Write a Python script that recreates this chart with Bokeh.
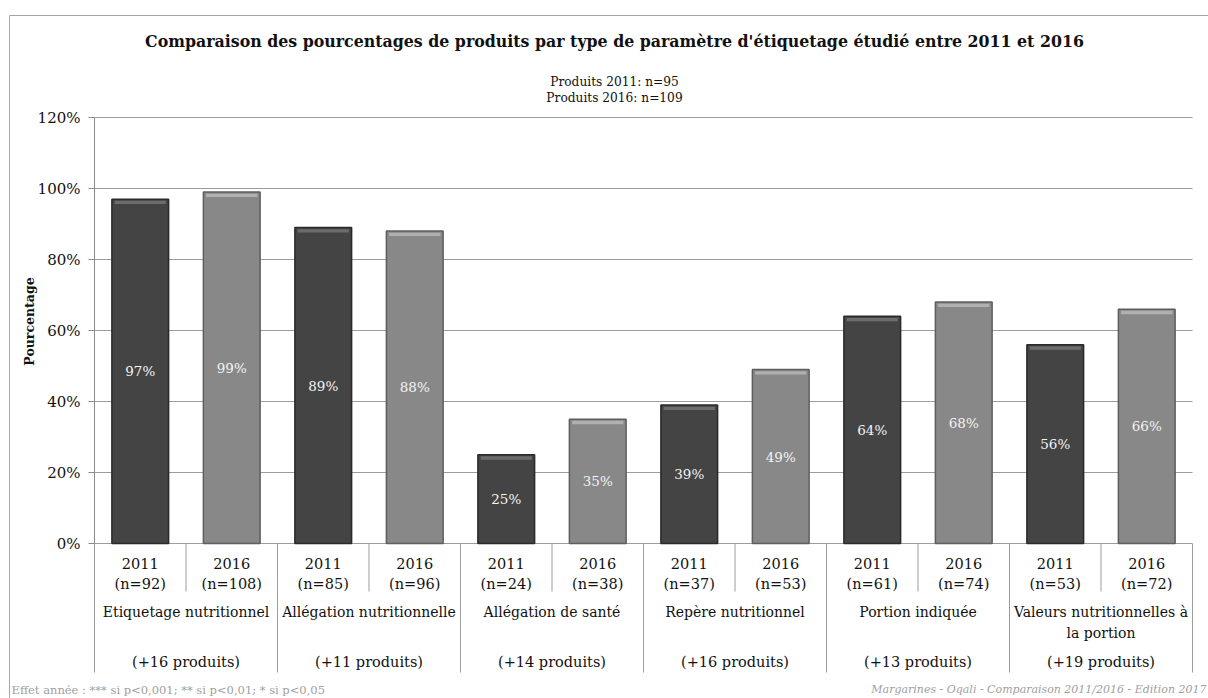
import math
from bokeh.plotting import figure
from bokeh.models import Range1d, FixedTicker, Label, ColumnDataSource, PrintfTickFormatter
from bokeh.embed import file_html
from bokeh.resources import INLINE
from bokeh.core.properties import value

# ---------------- data ----------------
categories = ["Etiquetage nutritionnel", "Allégation nutritionnelle", "Allégation de santé",
              "Repère nutritionnel", "Portion indiquée", "Valeurs nutritionnelles à\nla portion"]
years = ["2011", "2016"]
pct_2011 = [97, 89, 25, 39, 64, 56]
pct_2016 = [99, 88, 35, 49, 68, 66]
n_2011 = [92, 85, 24, 37, 61, 53]
n_2016 = [108, 96, 38, 53, 74, 72]
extra_products = [16, 11, 14, 16, 13, 19]
y_ticks = [0, 20, 40, 60, 80, 100, 120]
title_text = "Comparaison des pourcentages de produits par type de paramètre d'étiquetage étudié entre 2011 et 2016"
subtitle_lines = ["Produits 2011: n=95", "Produits 2016: n=109"]
y_label = "Pourcentage"
footer_left = "Effet année : *** si p<0,001; ** si p<0,01; * si p<0,05"
footer_right = "Margarines - Oqali - Comparaison 2011/2016 - Edition 2017"

FONT = "DejaVu Serif"

# ---------------- layout (page pixels -> data units) ----------------
W, H = 1208, 698
ORIGIN_X, ORIGIN_Y = 0, 0   # observed canvas position on the page
PX_X0, PX_X12 = 94, 1192    # page x of the plot area left/right
PX_Y0, PX_Y120 = 543, 117   # page y of 0% and 120%
UX = (PX_X12 - PX_X0) / 12.0
UY = (PX_Y0 - PX_Y120) / 120.0

def dx(px):
    return (px - PX_X0) / UX

def dy(py):
    return (PX_Y0 - py) / UY

x_start, x_end = dx(ORIGIN_X), dx(ORIGIN_X + W)
y_start, y_end = dy(ORIGIN_Y + H), dy(ORIGIN_Y)
TABLE_BOTTOM = dy(672)

# ---------------- derived table ----------------
ncat = len(categories)
xs, vals, ns, yrs, fills, lines, hls = [], [], [], [], [], [], []
for c in range(ncat):
    for j, (v, n) in enumerate([(pct_2011[c], n_2011[c]), (pct_2016[c], n_2016[c])]):
        xs.append(2 * c + j + 0.5)
        vals.append(v)
        ns.append(f"(n={n})")
        yrs.append(years[j])
        fills.append("#444444" if j == 0 else "#888888")
        lines.append("#2a2a2a" if j == 0 else "#5e5e5e")
        hls.append("#6c6c6c" if j == 0 else "#b0b0b0")

src = ColumnDataSource(dict(
    x=xs, top=vals, mid=[v / 2 for v in vals], lab=[f"{v}%" for v in vals],
    hl_top=[v - 0.45 for v in vals], hl_bot=[v - 1.4 for v in vals],
    year=yrs, n=ns, fill=fills, line=lines, hl=hls,
))
cat_src = ColumnDataSource(dict(
    x=[2 * c + 1 for c in range(ncat)], name=categories,
    extra=[f"(+{e} produits)" for e in extra_products],
))

p = figure(width=W, height=H, output_backend="svg", toolbar_location=None,
           x_range=Range1d(x_start, x_end), y_range=Range1d(y_start, y_end),
           min_border_left=0, min_border_right=0, min_border_top=0, min_border_bottom=0)
p.title.visible = False
p.outline_line_color = None
p.background_fill_color = "white"
p.border_fill_color = "white"
p.xaxis.visible = False
p.xgrid.visible = False
p.ygrid.visible = False

# y axis drawn at x = 0 inside the canvas
yax = p.yaxis[0]
yax.fixed_location = 0
yax.bounds = (0, 120)
yax.ticker = FixedTicker(ticks=y_ticks)
yax.formatter = PrintfTickFormatter(format="%d%%")
yax.axis_line_color = "#8c8c8c"
yax.major_tick_line_color = "#8c8c8c"
yax.major_tick_out = 6
yax.major_tick_in = 0
yax.minor_tick_line_color = None
yax.major_label_standoff = 8
yax.major_label_text_font = FONT
yax.major_label_text_font_size = "15px"
yax.major_label_text_color = "#111111"

# outer chart border (top and left)
p.segment(x0=[dx(9), dx(9)], y0=[dy(15), dy(15)], x1=[x_end, dx(9)], y1=[dy(15), y_start],
          line_color="#a6a6a6", line_width=1)

# horizontal grid lines
p.segment(x0=[0] * len(y_ticks), y0=y_ticks, x1=[12] * len(y_ticks), y1=y_ticks,
          line_color="#9c9c9c", line_width=1)

# separators of the category table
sep_x0, sep_y1 = [], []
for b in range(2 * ncat + 1):
    sep_x0.append(b)
    sep_y1.append(dy(591) if b % 2 == 1 else TABLE_BOTTOM)
p.segment(x0=sep_x0, y0=[0] * len(sep_x0), x1=sep_x0, y1=sep_y1,
          line_color="#9c9c9c", line_width=1)

# bars
p.vbar(x="x", top="top", bottom=0, width=0.62, source=src,
       fill_color="fill", line_color="line", line_width=1.5)
p.vbar(x="x", top="hl_top", bottom="hl_bot", width=0.56, source=src,
       fill_color="hl", line_color=None)

# value labels
p.text(x="x", y="mid", text="lab", source=src, text_align="center", text_baseline="middle",
       text_font=value(FONT), text_font_size="13.5px", text_color="#f4f4f4")

# table texts
TXT = dict(text_align="center", text_font=value(FONT), text_color="#111111")
p.text(x="x", y=dy(563), text="year", source=src, text_baseline="middle", text_font_size="14.5px", **TXT)
p.text(x="x", y=dy(583), text="n", source=src, text_baseline="middle", text_font_size="14.5px", **TXT)
p.text(x="x", y=dy(603), text="name", source=cat_src, text_baseline="top", text_line_height=1.35,
       text_font_size="14px", **TXT)
p.text(x="x", y=dy(661), text="extra", source=cat_src, text_baseline="middle", text_font_size="14.5px", **TXT)

# titles, axis label, footers
p.add_layout(Label(x=dx(614), y=dy(41), text=title_text, text_align="center", text_baseline="middle",
                   text_font=FONT, text_font_size="15.8px", text_font_style="bold", text_color="#111111"))
p.add_layout(Label(x=dx(614), y=dy(81), text=subtitle_lines[0], text_align="center", text_baseline="middle",
                   text_font=FONT, text_font_size="12.2px", text_color="#111111"))
p.add_layout(Label(x=dx(614), y=dy(97), text=subtitle_lines[1], text_align="center", text_baseline="middle",
                   text_font=FONT, text_font_size="12.2px", text_color="#111111"))
p.add_layout(Label(x=dx(29), y=dy(321), text=y_label, angle=math.pi / 2, text_align="center",
                   text_baseline="middle", text_font=FONT, text_font_size="12.5px",
                   text_font_style="bold", text_color="#111111"))
p.add_layout(Label(x=dx(11), y=dy(689), text=footer_left, text_align="left", text_baseline="middle",
                   text_font=FONT, text_font_size="11.5px", text_color="#a0a0a0"))
p.add_layout(Label(x=dx(1206), y=dy(689), text=footer_right, text_align="right", text_baseline="middle",
                   text_font=FONT, text_font_size="11px", text_font_style="italic", text_color="#a0a0a0"))

open("out.html", "w").write(file_html(p, INLINE))
